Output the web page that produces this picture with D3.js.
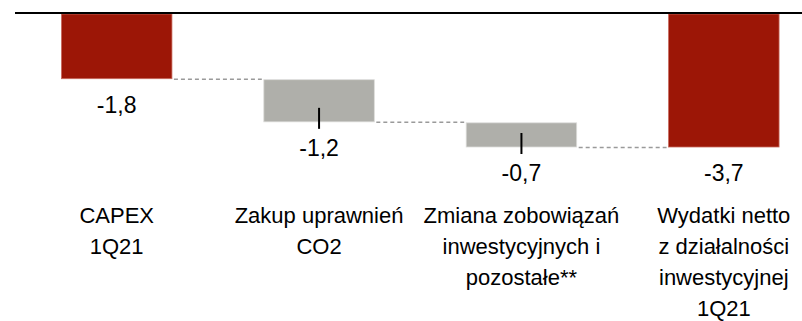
<!DOCTYPE html>
<html>
<head>
<meta charset="utf-8">
<script src="https://cdn.jsdelivr.net/npm/d3@7"></script>
<style>
  html, body { margin: 0; padding: 0; background: #fff; }
  svg { display: block; font-family: "Liberation Sans", Arial, sans-serif; }
</style>
</head>
<body>
<svg id="chart" width="802" height="321"></svg>
<script>
// Waterfall: net investment spending 1Q21 (bn PLN)
const categories = ["capex", "co2", "liab", "net"];
const labelLines = [
  ["CAPEX", "1Q21"],
  ["Zakup uprawnień", "CO2"],
  ["Zmiana zobowiązań", "inwestycyjnych i", "pozostałe**"],
  ["Wydatki netto", "z działalności", "inwestycyjnej", "1Q21"]
];
const values = [-1.8, -1.2, -0.7, -3.7];
const kinds = ["total", "delta", "delta", "total"];
const valueText = ["-1,8", "-1,2", "-0,7", "-3,7"];

const RED = "#9c1606";
const GREY = "#afafaa";

// Running totals for the floating bars
let run = 0;
const bars = categories.map((c, i) => {
  let y0, y1;
  if (kinds[i] === "total") { y0 = 0; y1 = values[i]; run = values[i]; }
  else { y0 = run; y1 = run + values[i]; run = y1; }
  return { key: c, i, y0, y1, kind: kinds[i] };
});

const svg = d3.select("#chart");

const x = d3.scaleBand()
  .domain(categories)
  .range([15.5, 825])
  .paddingInner(0.454)
  .paddingOuter(0.227);

const y = d3.scaleLinear().domain([0, -3.7]).range([14, 147]);

// Connectors between consecutive bar ends
const conn = svg.append("g");
bars.slice(0, -1).forEach((b, i) => {
  const nb = bars[i + 1];
  conn.append("line")
    .attr("x1", x(b.key) + x.bandwidth() + 2)
    .attr("x2", x(nb.key) - 2)
    .attr("y1", y(b.y1) + 0.5)
    .attr("y2", y(b.y1) + 0.5)
    .attr("stroke", "#9a9a9a")
    .attr("stroke-width", 1.5)
    .attr("stroke-dasharray", "4,3");
});

// Bars
svg.append("g").selectAll("rect")
  .data(bars)
  .join("rect")
  .attr("x", d => x(d.key))
  .attr("width", x.bandwidth())
  .attr("y", d => y(Math.max(d.y0, d.y1)) + (d.kind === "delta" ? 1 : 0))
  .attr("height", d => Math.abs(y(d.y1) - y(d.y0)) - (d.kind === "delta" ? 1 : 0))
  .attr("fill", d => d.kind === "total" ? RED : GREY)
  .attr("stroke", d => d.kind === "total" ? "#c86a5e" : "#dcdcda")
  .attr("stroke-width", 0.8);

// Leader ticks on the intermediate bars
svg.append("g").selectAll("line")
  .data(bars.filter(d => d.kind === "delta"))
  .join("line")
  .attr("x1", d => x(d.key) + x.bandwidth() / 2)
  .attr("x2", d => x(d.key) + x.bandwidth() / 2)
  .attr("y1", d => y(d.y1) - 14)
  .attr("y2", d => y(d.y1) + 7)
  .attr("stroke", "#000")
  .attr("stroke-width", 2);

// Zero axis at the top
svg.append("line")
  .attr("x1", 15).attr("x2", 802)
  .attr("y1", y(0) - 1).attr("y2", y(0) - 1)
  .attr("stroke", "#000")
  .attr("stroke-width", 2);

// Value labels
svg.append("g").selectAll("text")
  .data(bars)
  .join("text")
  .attr("x", d => x(d.key) + x.bandwidth() / 2)
  .attr("y", d => y(d.y1) + 34)
  .attr("text-anchor", "middle")
  .attr("font-size", 23)
  .attr("fill", "#000")
  .text(d => valueText[d.i]);

// Category labels
const cat = svg.append("g").selectAll("text")
  .data(bars)
  .join("text")
  .attr("x", d => x(d.key) + x.bandwidth() / 2)
  .attr("y", 223)
  .attr("text-anchor", "middle")
  .attr("font-size", 22)
  .attr("fill", "#000");
cat.selectAll("tspan")
  .data(d => labelLines[d.i].map(t => ({ t, cx: x(d.key) + x.bandwidth() / 2 })))
  .join("tspan")
  .attr("x", d => d.cx)
  .attr("dy", (d, j) => j === 0 ? 0 : 31)
  .text(d => d.t);
</script>
</body>
</html>
